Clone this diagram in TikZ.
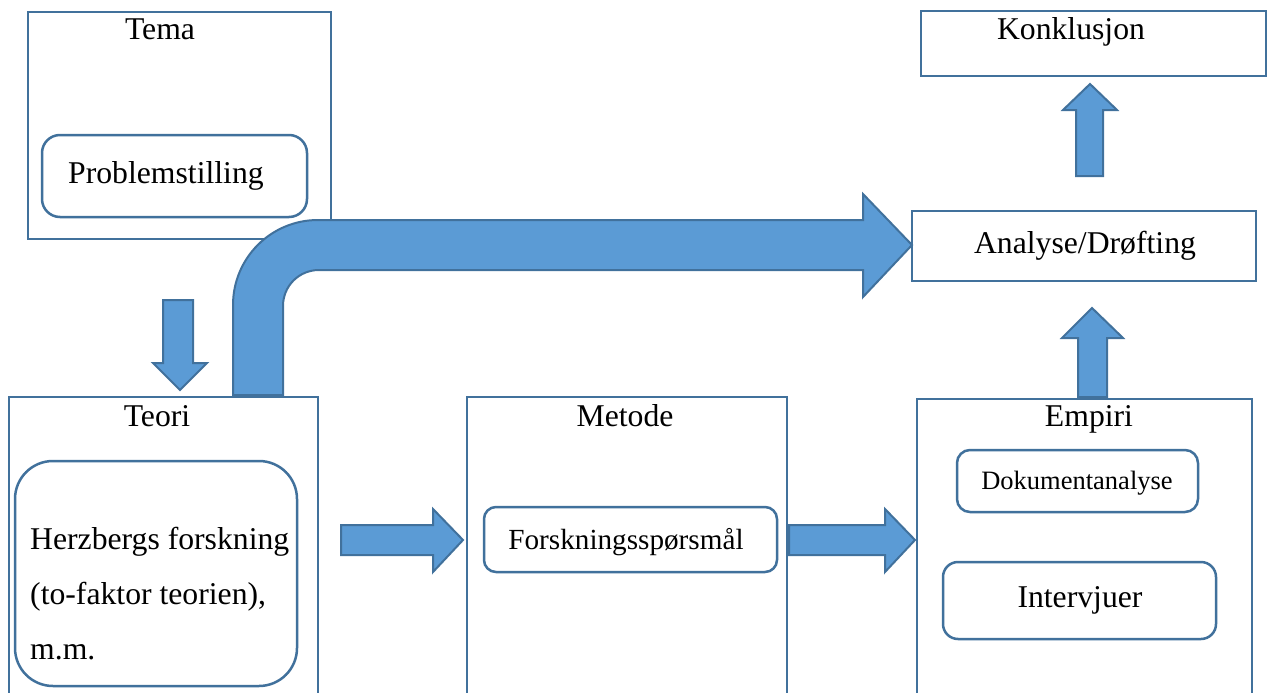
\documentclass[tikz,border=0pt]{standalone}
\usepackage{fontspec}
\setmainfont{Liberation Serif}
\definecolor{fillblue}{HTML}{5B9BD5}
\definecolor{edgeblue}{HTML}{41719C}
\begin{document}
\begin{tikzpicture}[x=1pt,y=-1pt,
  box/.style={draw=edgeblue, line width=2.5pt, fill=white, inner sep=0pt, outer sep=0pt},
  rbox/.style={box, rounded corners=#1},
  txt/.style={font=\fontsize{31.7}{38}\selectfont, anchor=base, inner sep=0pt},
  txtw/.style={font=\fontsize{31.7}{38}\selectfont, anchor=base west, inner sep=0pt},
  midtxt/.style={font=\fontsize{29.2}{35}\selectfont, anchor=base, inner sep=0pt},
  smalltxt/.style={font=\fontsize{26.5}{32}\selectfont, anchor=base, inner sep=0pt},
  blockarrow/.style={fill=fillblue, draw=edgeblue, line width=2pt, line join=miter}]
\useasboundingbox (0,0) rectangle (1269,693);
\clip (0,0) rectangle (1269,693);

% outer boxes
\node[box, minimum width=303pt, minimum height=227pt] (tema) at (179.5,125.5) {};
\node[box, minimum width=345pt, minimum height=65pt] (konk) at (1093.5,43.5) {};
\node[box, minimum width=344pt, minimum height=70pt] (analyse) at (1084,246) {};
\node[box, minimum width=309pt, minimum height=313pt] (teori) at (163.5,553.5) {};
\node[box, minimum width=320pt, minimum height=313pt] (metode) at (627,553.5) {};
\node[box, minimum width=335pt, minimum height=311pt] (empiri) at (1084.5,554.5) {};

% inner rounded boxes
\node[rbox=18pt, minimum width=265pt, minimum height=82pt] (problem) at (174.5,176) {};
\node[rbox=38pt, minimum width=282pt, minimum height=225pt] (herz) at (156,573.5) {};
\node[rbox=12pt, minimum width=293pt, minimum height=65pt] (forsk) at (630.5,539.5) {};
\node[rbox=13pt, minimum width=241pt, minimum height=62pt] (dok) at (1077.5,481) {};
\node[rbox=15pt, minimum width=273pt, minimum height=77pt] (interv) at (1079.5,600.5) {};

% texts
\node[txt] (tTema) at (160,40) {Tema};
\node[txtw] (tProblem) at (68,183) {Problemstilling};
\node[txt] (tKonk) at (1071,40) {Konklusjon};
\node[txt] (tAnalyse) at (1085,253) {Analyse/Drøfting};
\node[txt] (tTeori) at (157,426) {Teori};
\node[txt] (tMetode) at (625,426) {Metode};
\node[txt] (tEmpiri) at (1089,426) {Empiri};
\node[txtw] (h1) at (30,549) {Herzbergs forskning};
\node[txtw] (h2) at (30,604) {(to-faktor teorien),};
\node[txtw] (h3) at (30,659) {m.m.};
\node[midtxt] (tForsk) at (626,549) {Forskningsspørsmål};
\node[smalltxt] (tDok) at (1077,489) {Dokumentanalyse};
\node[txt] (tInterv) at (1080,607) {Intervjuer};

% block arrows
% Tema -> Teori (down)
\draw[blockarrow] (163,300) -- (193,300) -- (193,363) -- (207,363) -- (180,390) -- (153,363) -- (163,363) -- cycle;
% Teori -> Metode
\draw[blockarrow] (341,525) -- (433,525) -- (433,509) -- (463,540) -- (433,572) -- (433,555) -- (341,555) -- cycle;
% Metode -> Empiri
\draw[blockarrow] (789,525) -- (885,525) -- (885,509) -- (915,540) -- (885,572) -- (885,555) -- (789,555) -- cycle;
% Empiri -> Analyse (up)
\draw[blockarrow] (1078,397) -- (1078,338) -- (1062,338) -- (1092,308) -- (1123,338) -- (1107,338) -- (1107,397) -- cycle;
% Analyse -> Konklusjon (up)
\draw[blockarrow] (1076,176) -- (1076,110) -- (1063,110) -- (1090,84) -- (1117,110) -- (1103,110) -- (1103,176) -- cycle;
% Teori -> Analyse (bent)
\draw[blockarrow] (233,395) -- (233,305) .. controls (233,258) and (271,220) .. (318,220)
  -- (863,220) -- (863,194) -- (912,245) -- (863,297) -- (863,270) -- (319,270)
  .. controls (299,270) and (283,286) .. (283,306) -- (283,395) -- cycle;
\end{tikzpicture}
\end{document}
